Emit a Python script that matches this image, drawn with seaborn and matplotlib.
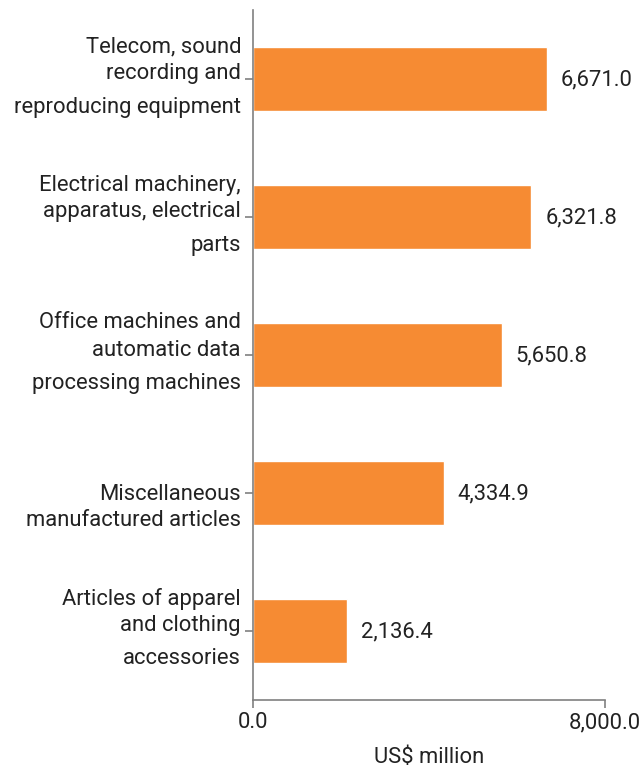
import matplotlib
matplotlib.use("Agg")
import matplotlib.pyplot as plt
import matplotlib.transforms as mtransforms
import seaborn as sns
import pandas as pd

categories = [
    "Telecom, sound\nrecording and\nreproducing equipment",
    "Electrical machinery,\napparatus, electrical\nparts",
    "Office machines and\nautomatic data\nprocessing machines",
    "Miscellaneous\nmanufactured articles",
    "Articles of apparel\nand clothing\naccessories",
]
values = [6671.0, 6321.8, 5650.8, 4334.9, 2136.4]
xticks = [0, 8000]
xtick_labels = ["0.0", "8,000.0"]

sns.set_theme(style="white")
plt.rcParams["font.family"] = ["Roboto", "DejaVu Sans"]

df = pd.DataFrame({"cat": categories, "val": values})

fig = plt.figure(figsize=(6.43, 7.73), dpi=100)
ax = fig.add_axes([253/643, 1-700/773, (605-253)/643, (700-10)/773])

sns.barplot(data=df, x="val", y="cat", color="#F68B33", saturation=1,
            width=0.46, ax=ax, orient="h")

FS = 15.8
TXT = "#222222"
ax.set_xlim(0, 8000)
ax.set_ylim(4.5, -0.5)
ax.set_xticks(xticks)
ax.set_xticklabels(xtick_labels, fontsize=FS, color=TXT)
ax.set_yticks(range(len(categories)))
ax.set_yticklabels([""] * len(categories))
ax.set_xlabel("US$ million", fontsize=FS, color=TXT, labelpad=10)
ax.set_ylabel("")

for s in ["top", "right"]:
    ax.spines[s].set_visible(False)
for s in ["left", "bottom"]:
    ax.spines[s].set_color("#808080")
    ax.spines[s].set_linewidth(1.2)
ax.tick_params(axis="both", which="both", length=6, width=1.2, color="#808080",
               direction="out", left=True, bottom=True)
ax.tick_params(axis="x", pad=3)

# category labels, line by line (offsets in pixels from the tick)
line_offsets = {3: [-32, -5, 28], 2: [2, 28], 1: [0]}
base = ax.get_yaxis_transform()
for i, cat in enumerate(categories):
    lines = cat.split("\n")
    for line, off in zip(lines, line_offsets[len(lines)]):
        tr = base + mtransforms.ScaledTranslation(-12 / 100, -off / 100, fig.dpi_scale_trans)
        ax.text(0, i, line, transform=tr, ha="right", va="center",
                fontsize=FS, color=TXT)

for i, v in enumerate(values):
    ax.annotate(f"{v:,.1f}", xy=(v, i), xytext=(14, -1), textcoords="offset pixels",
                ha="left", va="center", fontsize=FS, color=TXT)

fig.savefig("out.png", dpi=100)
